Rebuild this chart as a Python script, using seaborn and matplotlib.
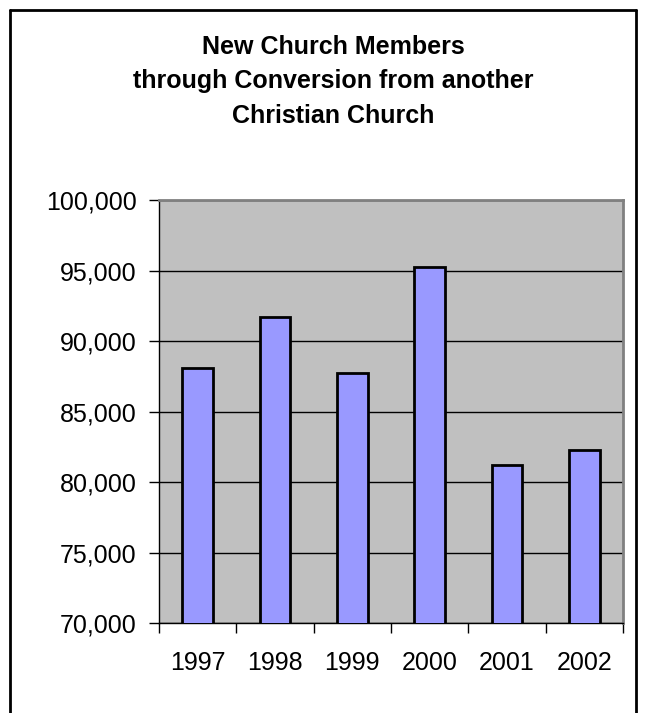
import matplotlib
matplotlib.use("Agg")
import matplotlib.pyplot as plt
import seaborn as sns
import pandas as pd
import numpy as np
from matplotlib.lines import Line2D
from matplotlib.ticker import FuncFormatter, FixedLocator

years = ["1997", "1998", "1999", "2000", "2001", "2002"]
members = [88100, 91700, 87750, 95260, 81210, 82300]
title_lines = ["New Church Members", "through Conversion from another", "Christian Church"]

sns.set_theme(style="white")
plt.rcParams["font.family"] = ["Liberation Sans", "DejaVu Sans"]

W, H = 645, 713
fig = plt.figure(figsize=(W / 100, H / 100), dpi=100)
ax = fig.add_axes([159 / W, 1 - 623 / H, (623 - 159) / W, (623 - 200) / H])

df = pd.DataFrame({"year": years, "members": members})
sns.barplot(data=df, x="year", y="members", color="#9999FF", saturation=1,
            width=0.4, edgecolor="black", linewidth=2, ax=ax, zorder=3)

ax.set_facecolor("#C0C0C0")
ax.set_ylim(70000, 100000)
ax.set_xlim(-0.5, len(years) - 0.5)
ax.set_yticks(np.arange(70000, 100001, 5000))
ax.yaxis.set_major_formatter(FuncFormatter(lambda v, p: f"{int(v):,}"))
ax.grid(axis="y", color="black", linewidth=1.0, zorder=1)
ax.set_axisbelow(True)
ax.set_xlabel("")
ax.set_ylabel("")

for s in ["top", "right"]:
    ax.spines[s].set_color("#808080")
    ax.spines[s].set_linewidth(2)
for s in ["left", "bottom"]:
    ax.spines[s].set_color("black")
    ax.spines[s].set_linewidth(1)

ax.tick_params(axis="y", which="major", direction="out", length=7, width=1,
               color="black", labelsize=18, pad=9, left=True)
ax.tick_params(axis="x", which="major", length=0, labelsize=18, pad=20)
ax.xaxis.set_minor_locator(FixedLocator(np.arange(-0.5, len(years), 1.0)))
ax.tick_params(axis="x", which="minor", direction="out", length=7, width=1,
               color="black", bottom=True)
for t in ax.get_xticklabels() + ax.get_yticklabels():
    t.set_color("black")

fig.text(333 / W, 1 - 35 / H, "\n".join(title_lines), ha="center", va="top",
         fontsize=18, fontweight="bold", linespacing=1.55, color="black")

# outer chart border (bottom edge lies beyond the image)
for xs, ys in [([10, 10], [10, H + 5]), ([636, 636], [10, H + 5]), ([10, 636], [10, 10])]:
    fig.add_artist(Line2D([x / W for x in xs], [1 - y / H for y in ys],
                          transform=fig.transFigure, color="black", linewidth=2))

fig.savefig("out.png", dpi=100)
